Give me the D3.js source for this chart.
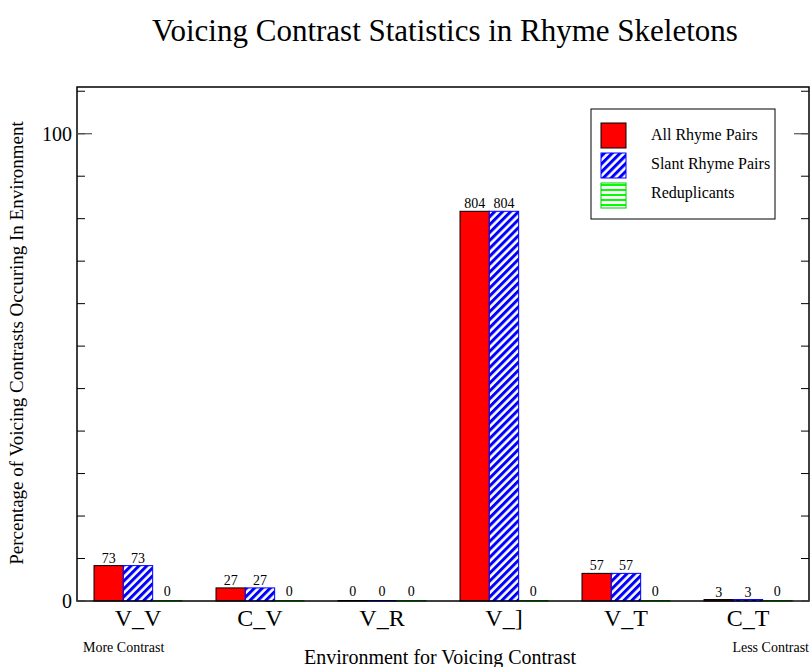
<!DOCTYPE html>
<html>
<head>
<meta charset="utf-8">
<script src="https://cdn.jsdelivr.net/npm/d3@7"></script>
<style>
  body { margin: 0; background: #fff; }
  text { font-family: "Liberation Serif", "Times New Roman", serif; }
</style>
</head>
<body>
<div id="chart"></div>
<script>
const categories = ["V_V", "C_V", "V_R", "V_]", "V_T", "C_T"];
const seriesNames = ["All Rhyme Pairs", "Slant Rhyme Pairs", "Reduplicants"];
const allRhyme = [73, 27, 0, 804, 57, 3];
const slantRhyme = [73, 27, 0, 804, 57, 3];
const reduplicants = [0, 0, 0, 0, 0, 0];
const yTickLabels = [0, 100];

const width = 812, height = 667;
const margin = { top: 87, right: 3, bottom: 66, left: 77 };

const svg = d3.select("#chart").append("svg")
    .attr("width", width)
    .attr("height", height);

const defs = svg.append("defs");
const diag = defs.append("pattern").attr("id", "diag")
    .attr("patternUnits", "userSpaceOnUse")
    .attr("width", 5.6).attr("height", 5.6)
    .attr("patternTransform", "rotate(45)");
diag.append("rect").attr("width", 5.6).attr("height", 5.6).attr("fill", "#fff");
diag.append("rect").attr("width", 3).attr("height", 5.6).attr("fill", "#0000ff");

const horiz = defs.append("pattern").attr("id", "horiz")
    .attr("patternUnits", "userSpaceOnUse")
    .attr("width", 5).attr("height", 5);
horiz.append("rect").attr("width", 5).attr("height", 5).attr("fill", "#fff");
horiz.append("rect").attr("width", 5).attr("height", 2).attr("fill", "#00ff00");

const styles = [
    { fill: "#ff0000", stroke: "#000" },
    { fill: "url(#diag)", stroke: "#0000ff" },
    { fill: "url(#horiz)", stroke: "#00cc00" }
];

// counts -> percent of each series' total
const toPct = arr => {
    const total = d3.sum(arr);
    return arr.map(v => total ? v / total * 100 : 0);
};
const seriesCounts = [allRhyme, slantRhyme, reduplicants];
const seriesPct = seriesCounts.map(toPct);

const rows = categories.map((c, i) => ({
    cat: c,
    bars: seriesNames.map((s, j) => ({ s, j, count: seriesCounts[j][i], pct: seriesPct[j][i] }))
}));

const x = d3.scaleBand().domain(categories).range([margin.left, width - margin.right]);
const x1 = d3.scaleBand().domain(seriesNames).range([0, x.bandwidth()]).paddingOuter(0.58);
const y = d3.scaleLinear().domain([0, 110]).range([height - margin.bottom, margin.top]);

// bars
const groups = svg.append("g").selectAll("g").data(rows).join("g")
    .attr("transform", d => `translate(${x(d.cat)},0)`);

groups.selectAll("rect").data(d => d.bars).join("rect")
    .attr("x", d => x1(d.s))
    .attr("y", d => Math.min(y(d.pct), y(0) - 0.5))
    .attr("width", x1.bandwidth())
    .attr("height", d => Math.max(y(0) - y(d.pct), 0.5))
    .attr("fill", d => styles[d.j].fill)
    .attr("stroke", d => styles[d.j].stroke)
    .attr("stroke-width", 1);

groups.selectAll("text").data(d => d.bars).join("text")
    .attr("x", d => x1(d.s) + x1.bandwidth() / 2)
    .attr("y", d => d.pct > 0 ? y(d.pct) - 3 : y(0) - 5)
    .attr("text-anchor", "middle")
    .attr("font-size", 14)
    .text(d => d.count);

// frame
const x0 = margin.left, xr = width - margin.right, yt = margin.top, yb = height - margin.bottom;
svg.append("rect")
    .attr("x", x0).attr("y", yt)
    .attr("width", xr - x0).attr("height", yb - yt)
    .attr("fill", "none").attr("stroke", "#000").attr("stroke-width", 1.5);

// ticks (inward, both sides)
const minorTicks = d3.range(0, 13).map(i => i * 100 / 11).filter(v => v <= 110);
const tickG = svg.append("g");
minorTicks.forEach(v => {
    tickG.append("line").attr("x1", x0).attr("x2", x0 + 8).attr("y1", y(v)).attr("y2", y(v))
        .attr("stroke", "#000").attr("stroke-width", 1);
    tickG.append("line").attr("x1", xr).attr("x2", xr - 8).attr("y1", y(v)).attr("y2", y(v))
        .attr("stroke", "#000").attr("stroke-width", 1);
});
yTickLabels.forEach(v => {
    tickG.append("line").attr("x1", x0).attr("x2", x0 + 15).attr("y1", y(v)).attr("y2", y(v))
        .attr("stroke", "#555").attr("stroke-width", 1.2);
    tickG.append("line").attr("x1", xr).attr("x2", xr - 15).attr("y1", y(v)).attr("y2", y(v))
        .attr("stroke", "#555").attr("stroke-width", 1.2);
    tickG.append("text").attr("x", x0 - 5).attr("y", y(v) + 7)
        .attr("text-anchor", "end").attr("font-size", 20).text(v);
});

// category labels
svg.append("g").selectAll("text").data(categories).join("text")
    .attr("x", d => x(d) + x.bandwidth() / 2)
    .attr("y", yb + 25)
    .attr("text-anchor", "middle")
    .attr("font-size", 24)
    .text(d => d);

svg.append("text").attr("x", 83).attr("y", 652).attr("font-size", 14).text("More Contrast");
svg.append("text").attr("x", 809).attr("y", 652).attr("text-anchor", "end").attr("font-size", 14).text("Less Contrast");
svg.append("text").attr("x", 440).attr("y", 664).attr("text-anchor", "middle").attr("font-size", 20)
    .text("Environment for Voicing Contrast");

svg.append("text")
    .attr("transform", "translate(23,343) rotate(-90)")
    .attr("text-anchor", "middle").attr("font-size", 19)
    .text("Percentage of Voicing Contrasts Occuring In Environment");

svg.append("text").attr("x", 445).attr("y", 41).attr("text-anchor", "middle").attr("font-size", 31)
    .text("Voicing Contrast Statistics in Rhyme Skeletons");

// legend
const lg = svg.append("g").attr("transform", "translate(591,109)");
lg.append("rect").attr("width", 184).attr("height", 110)
    .attr("fill", "#fff").attr("stroke", "#000").attr("stroke-width", 1);
seriesNames.forEach((s, j) => {
    lg.append("rect").attr("x", 10).attr("y", 14 + j * 30).attr("width", 25).attr("height", 25)
        .attr("fill", styles[j].fill).attr("stroke", styles[j].stroke).attr("stroke-width", 1);
    lg.append("text").attr("x", 60).attr("y", 31 + j * 29).attr("font-size", 16).text(s);
});
</script>
</body>
</html>
